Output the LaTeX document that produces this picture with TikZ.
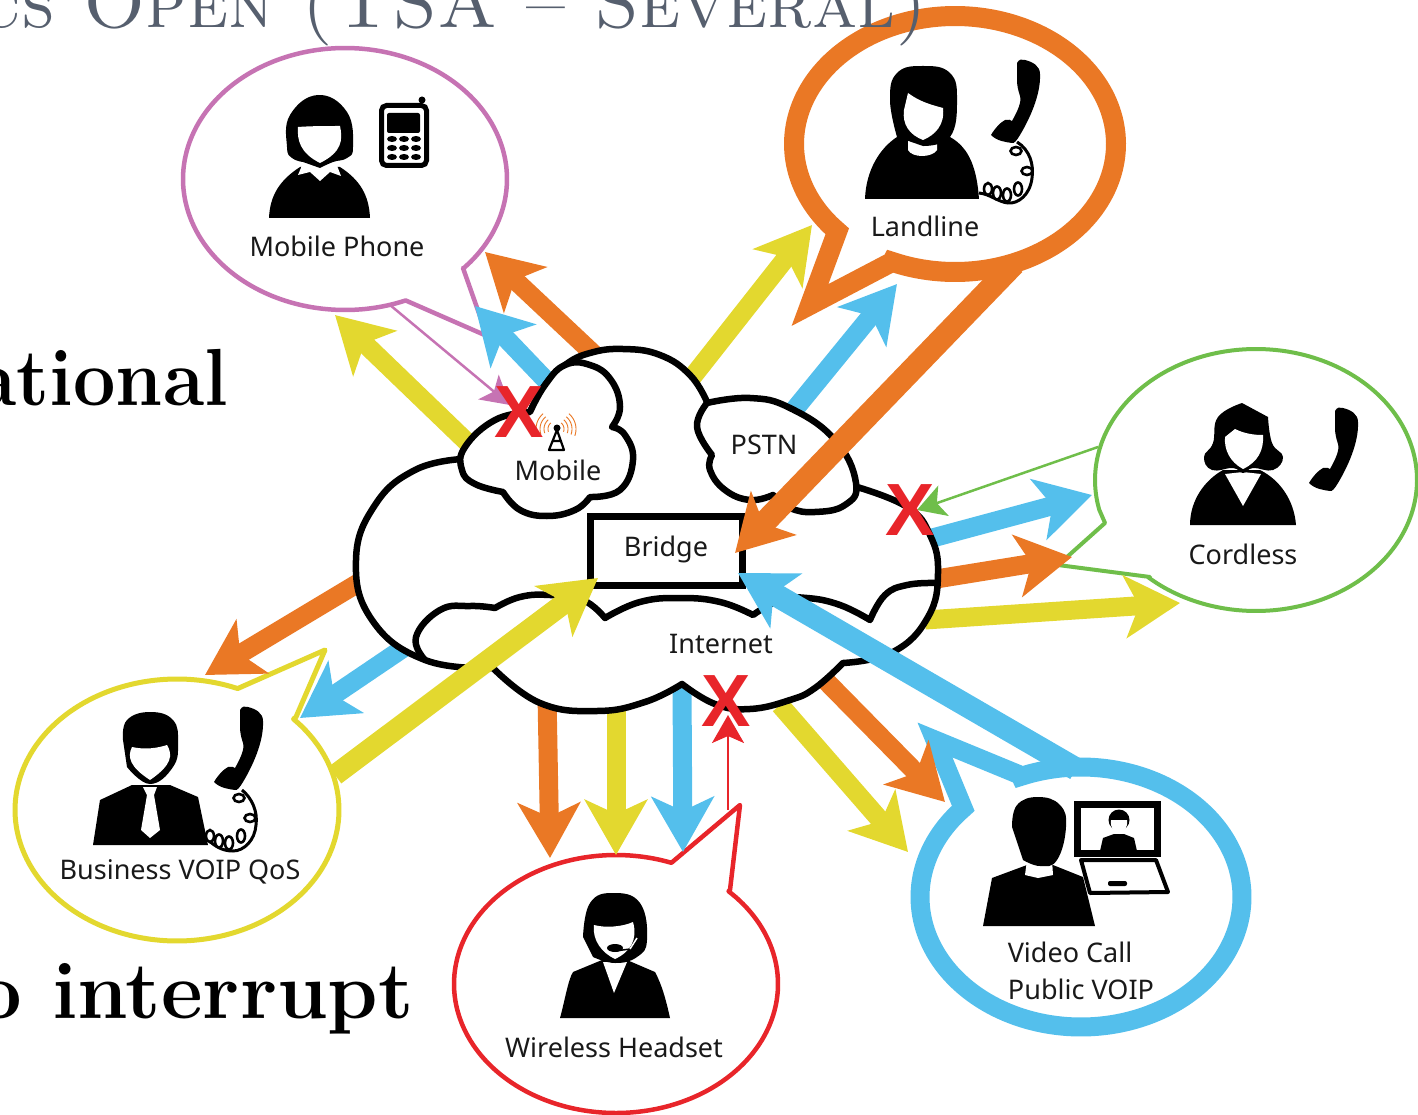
\documentclass[tikz,border=0pt]{standalone}
\usepackage{fontspec}
\newfontfamily\lab{Noto Sans}
\newfontfamily\xfont{Liberation Sans}
\usetikzlibrary{arrows.meta}
\definecolor{cy}{HTML}{E3D82F}
\definecolor{co}{HTML}{EA7825}
\definecolor{cb}{HTML}{54BFEC}
\definecolor{cg}{HTML}{6FBE4A}
\definecolor{cp}{HTML}{C673B3}
\definecolor{cr}{HTML}{E8252A}
\definecolor{ct}{HTML}{565F6E}
\tikzset{
 x=1pt,y=-1pt,
 big/.style={-{Stealth[length=55pt,width=62pt,inset=14pt]},line width=19pt},
 long/.style={big,line width=23pt},
 thin/.style={-{Stealth[length=28pt,width=32pt,inset=7pt]},line width=2.5pt},
 bubble/.style={fill=white,line join=round},
 heavybubble/.style={fill=white,line join=miter,miter limit=10},
 cloud/.style={draw=black,line width=6.5pt,line join=round},
 lbl/.style={font=\lab\fontsize{27}{30}\selectfont,inner sep=0pt,text=black!90},
 redx/.style={font=\xfont\bfseries\fontsize{74}{74}\selectfont,text=cr,inner sep=0pt},
 paper/.style={fill=white},
 sm/.style={smooth,tension=.75},
 bigtext/.style={inner sep=0pt,font=\bfseries\addfontfeature{FakeBold=2}\fontsize{81}{84}\selectfont},
 ring/.style={draw=black,line width=2.6pt,fill=white},
 cord/.style={draw=black,line width=3pt},
}
\newcommand\handset[2]{\fill[shift={(#1,#2)}] (0,3) .. controls (2,-1) and (5,-1) .. (8,0) .. controls (16,2) and (23,6) .. (23,14) .. controls (24,35) and (12,60) .. (3,75) .. controls (0,80) and (-3,84) .. (-5,83) .. controls (-12,82) and (-20,81) .. (-26,75) .. controls (-22,68) and (-16,62) .. (-12,60) .. controls (-9,59) and (-6,60) .. (-5,61) .. controls (0,52) and (5,42) .. (3,36) .. controls (1,30) and (0,25) .. (0,20) -- cycle;}
\begin{document}
\begin{tikzpicture}
\useasboundingbox (0,0) rectangle (1418,1115);
\clip (0,0) rectangle (1418,1115);
% ---------- speech bubbles
\draw[bubble,draw=cp,line width=4.5pt] plot[smooth,domain=43:-292,samples=90] ({345+162*cos(\x)},{179+131*sin(\x)}) -- (487,336) -- (463,268) -- cycle;
\draw[heavybubble,draw=co,line width=20pt] plot[smooth,domain=113:-223,samples=90] ({955+161*cos(\x)},{144+128*sin(\x)}) -- (810,305) -- (892,262) -- cycle;
\draw[bubble,draw=cg,line width=4pt] plot[smooth,domain=132:-193,samples=90] ({1256+161*cos(\x)},{480+131*sin(\x)}) -- (1105,523) -- (1058,565) -- (1150,577) -- cycle;
\draw[bubble,draw=cy,line width=5pt] plot[smooth,domain=-44:292,samples=90] ({177+162*cos(\x)},{810+131*sin(\x)}) -- (325,650) -- (296,717) -- cycle;
\draw[bubble,draw=cr,line width=4.5pt] plot[smooth,domain=-46:290,samples=90] ({616+162*cos(\x)},{984+129*sin(\x)}) -- (740,805) -- (730,890) -- cycle;
\draw[heavybubble,draw=cb,line width=19pt] plot[smooth,domain=-112:223,samples=90] ({1081+161*cos(\x)},{897+130*sin(\x)}) -- (935,740) -- (1020,775) -- cycle;
% ---------- arrow ends
\coordinate (mys) at (470,445); \coordinate (myt) at (335,315);
\coordinate (mbs) at (560,395); \coordinate (mbt) at (475,306);
\coordinate (mos) at (600,360); \coordinate (mot) at (485,252);
\coordinate (lys) at (690,380); \coordinate (lyt) at (812,225);
\coordinate (lbs) at (790,415); \coordinate (lbt) at (897,284);
\coordinate (cbs) at (925,540); \coordinate (cbt) at (1092,495);
\coordinate (coos) at (930,580); \coordinate (coot) at (1072,557);
\coordinate (cys) at (925,620); \coordinate (cyt) at (1180,603);
\coordinate (bos) at (360,582); \coordinate (bot) at (205,675);
\coordinate (bbs) at (405,647); \coordinate (bbt) at (300,718);
\coordinate (wos) at (547,695); \coordinate (wot) at (550,858);
\coordinate (wys) at (616,705); \coordinate (wyt) at (616,855);
\coordinate (wbs) at (682,685); \coordinate (wbt) at (683,852);
\coordinate (vos) at (825,680); \coordinate (vot) at (945,802);
\coordinate (vys) at (780,705); \coordinate (vyt) at (908,852);
\coordinate (los) at (1014,264); \coordinate (lot) at (735,553);
\coordinate (vbs) at (1076,769); \coordinate (vbt) at (738,573);
\coordinate (bys) at (335,775); \coordinate (byt) at (598,578);
\coordinate (mps) at (390,305); \coordinate (mpt) at (510,405);
\coordinate (cgs) at (1098,447); \coordinate (cgt) at (917,510);
\coordinate (wrs) at (728,810); \coordinate (wrt) at (728,715);
% ---------- arrows behind the clouds
\draw[big,cy] (mys) -- (myt);
\draw[big,cb] (mbs) -- (mbt);
\draw[big,co] (mos) -- (mot);
\draw[big,cy] (lys) -- (lyt);
\draw[big,cb] (lbs) -- (lbt);
\draw[big,cb] (cbs) -- (cbt);
\draw[big,co] (coos) -- (coot);
\draw[big,cy] (cys) -- (cyt);
\draw[big,co] (bos) -- (bot);
\draw[big,cb] (bbs) -- (bbt);
\draw[big,co] (wos) -- (wot);
\draw[big,cy] (wys) -- (wyt);
\draw[big,cb] (wbs) -- (wbt);
\draw[big,co] (vos) -- (vot);
\draw[big,cy] (vys) -- (vyt);
% ---------- clouds
\draw[cloud,fill=white] plot[sm] coordinates {(462,459)(415,470)(375,505)(356,560)(372,620)(425,660)(493,668)}
 -- plot[sm] coordinates {(493,668)(540,703)(597,711)(645,702)(682,684)}
 -- plot[sm] coordinates {(682,684)(715,704)(750,709)(790,700)(815,688)(843,663)}
 -- plot[sm] coordinates {(843,663)(893,652)(928,617)(938,573)(930,535)(907,507)(857,487)}
 -- plot[sm] coordinates {(707,402)(690,375)(660,355)(623,349)(590,353)(565,365)(545,385)(530,412)} -- cycle;
\draw[cloud,fill=white] plot[sm] coordinates {(530,412)(495,420)(465,447)(462,470)(475,484)(503,492)}
 -- plot[sm] coordinates {(503,492)(520,510)(547,516)(575,510)(590,497)}
 -- plot[sm] coordinates {(590,497)(620,490)(633,460)(625,435)(612,427)}
 -- plot[sm] coordinates {(612,427)(620,407)(611,380)(590,365)(565,365)(545,385)(530,412)} -- cycle;
\draw[cloud,fill=white] plot[sm] coordinates {(707,403)(697,427)(712,455)}
 -- plot[sm] coordinates {(712,455)(710,470)(725,490)(750,500)(773,495)}
 -- plot[sm] coordinates {(773,495)(790,508)(815,512)(845,505)(856,483)(835,440)(790,408)(750,398)(707,403)} -- cycle;
\draw[cloud] plot[sm] coordinates {(425,660)(416,637)(440,610)(470,606)(495,608)}
 -- plot[sm] coordinates {(495,608)(520,597)(550,595)(583,600)(605,618)}
 -- plot[sm] coordinates {(605,618)(640,602)(680,598)(720,602)(753,615)}
 -- plot[sm] coordinates {(753,615)(780,600)(807,598)(840,605)(870,620)}
 -- plot[sm] coordinates {(870,620)(885,595)(907,585)(935,583)};
% ---------- bridge
\node[draw=black,line width=7pt,fill=white,minimum width=152pt,minimum height=69pt,inner sep=0pt] (bridge) at (666,550.5) {};
% ---------- arrows in front
\draw[long,co] (los) -- (lot);
\draw[long,cb] (vbs) -- (vbt);
\draw[long,cy,line width=21pt] (bys) -- (byt);
\draw[thin,cp] (mps) -- (mpt);
\draw[thin,cg] (cgs) -- (cgt);
\draw[thin,cr] (wrs) -- (wrt);
% ---------- tower
\foreach \r in {8,12,16,20}{
 \draw[co,line width=.9pt] plot[smooth,domain=-50:20,samples=12] ({556+\r*cos(\x)},{429+\r*sin(\x)});
 \draw[co,line width=.9pt] plot[smooth,domain=160:230,samples=12] ({556+\r*cos(\x)},{429+\r*sin(\x)});
}
\fill (557,428) circle (3.5);
\draw[line width=2.2pt,line join=round] (557,430) -- (549,450) -- (564,450) -- cycle (553,441) -- (561,441);
% ---------- Xs
\node[redx] (x1) at (519,412) {X};
\node[redx] (x2) at (910,510) {X};
\node[redx] (x3) at (726,701) {X};
% ---------- mobile person
\fill (269,218) .. controls (270,195) and (280,180) .. (300,167) -- (340,167) .. controls (360,180) and (369,195) .. (370,218) -- cycle;
\fill[paper] (303,163) -- (298,175) -- (310,172) -- (320,181) -- (330,172) -- (341,176) -- (336,163) -- cycle;
\fill plot[sm] coordinates {(303,162)(292,158)(287,147)(290,115)(318,95)(347,112)(353,147)(347,158)(333,162)(320,168)} -- cycle;
\fill[paper] (298,127) .. controls (310,126) and (328,126) .. (340,126) .. controls (343,140) and (342,152) .. (320,163) .. controls (300,153) and (297,140) .. (298,127) -- cycle;
\draw[line width=5pt,rounded corners=5pt,fill=white] (381.5,105.5) rectangle (426.5,165.5);
\fill (422,100) circle (3.5);
\fill[rounded corners=2pt] (387,113) rectangle (420,133);
\foreach \a in {392,404,416}\foreach \b in {139,148,157}{\fill (\a,\b) ellipse (5 and 3);}
% ---------- landline person
\fill (865,199) .. controls (866,170) and (880,148) .. (897,137) -- (950,137) .. controls (970,148) and (977,170) .. (979,199) -- cycle;
\fill[paper] (908,133) -- (908,150) .. controls (912,158) and (932,158) .. (937,150) -- (937,133) -- cycle;
\fill plot[sm] coordinates {(897,137)(890,100)(897,73)(923,66)(950,73)(957,100)(950,137)(923,146)} -- cycle;
\fill[paper] (908,93) .. controls (920,102) and (932,105) .. (943,108) .. controls (945,125) and (935,135) .. (923,140) .. controls (910,135) and (902,125) .. (904,110) -- cycle;
\handset{1017}{60}
\draw[cord] (1017,142) .. controls (1030,150) and (1034,165) .. (1032,178) .. controls (1030,195) and (1018,204) .. (1008,203) .. controls (998,202) and (990,194) .. (979,193);
\foreach \p/\q/\u/\v in {1016/151/5.5/4,1027/171/5.5/4,1018/189/4/6.5,1007/195/4/6.5,997/193/4/6.5,988/189/4/6}{\draw[ring] (\p,\q) ellipse ({\u} and {\v});}
% ---------- cordless person
\fill (1190,525) .. controls (1190,500) and (1205,480) .. (1223,470) -- (1260,470) .. controls (1280,480) and (1294,500) .. (1296,525) -- cycle;
\fill[paper] (1225,474) -- (1243,506) -- (1261,474) -- (1243,472) -- cycle;
\fill plot[sm] coordinates {(1242,403)(1218,417)(1213,443)(1204,457)(1212,470)(1233,468)(1243,473)(1253,468)(1273,470)(1283,457)(1272,443)(1268,417)} -- cycle;
\fill[paper] (1225,437) -- (1235,429) .. controls (1245,434) and (1255,435) .. (1263,435) .. controls (1264,450) and (1258,462) .. (1243,469) .. controls (1230,462) and (1224,450) .. (1225,437) -- cycle;
\handset{1335}{408}
% ---------- business person
\fill (93,845) -- (100,800) -- (132,785) -- (170,785) -- (198,797) -- (208,845) -- cycle;
\fill[paper] (143,787) -- (157,787) -- (154,795) -- (160,830) -- (150,838) -- (141,830) -- (147,795) -- cycle;
\fill plot[sm] coordinates {(123,740)(127,720)(150,712)(173,720)(178,743)(173,767)(150,784)(127,767)} -- cycle;
\fill[paper] (132,747) .. controls (145,750) and (158,748) .. (167,745) .. controls (173,755) and (172,765) .. (150,780) .. controls (130,767) and (127,757) .. (132,747) -- cycle;
\handset{240}{707}
\draw[cord] (242,790) .. controls (252,798) and (258,812) .. (256,825) .. controls (255,840) and (244,851) .. (233,851) .. controls (222,851) and (215,846) .. (208,840);
\foreach \p/\q/\u/\v in {239/798/5.5/4,250/818/5.5/4,241/836/4/6.5,229/843/4/6.5,219/841/4/6.5,210/836/4/6}{\draw[ring] (\p,\q) ellipse ({\u} and {\v});}
% ---------- headset person
\fill (560,1018) .. controls (565,1000) and (568,980) .. (573,972) -- (602,960) -- (627,960) -- (655,972) .. controls (662,985) and (666,1000) .. (670,1018) -- cycle;
\fill[paper] (603,962) -- (614,993) -- (627,962) -- cycle;
\fill plot[sm] coordinates {(583,937)(590,903)(613,893)(640,903)(647,940)(637,957)(615,963)(593,957)} -- cycle;
\fill[paper] (594,925) .. controls (605,928) and (622,927) .. (633,922) .. controls (638,940) and (630,952) .. (615,959) .. controls (602,953) and (592,940) .. (594,925) -- cycle;
\fill (615,948) ellipse (8 and 4);
\draw[line width=1.5pt] (615,951) -- (630,949);
\draw[white,line width=1.5pt] (630,949) -- (637,938);
% ---------- video person
\draw[line width=4pt,line join=round,fill=white] (1081,860) -- (1156,860) -- (1168,892) -- (1090,893) -- cycle;
\fill[rounded corners=2pt] (1108,881) rectangle (1127,886);
\draw[line width=7pt,fill=white] (1077.5,804.5) rectangle (1157.5,853.5);
\fill (1100,851) -- (1103,838) -- (1114,834) -- (1124,834) -- (1134,838) -- (1137,851) -- cycle;
\fill (1119,820) circle (10.5);
\fill[paper] (1111,820) -- (1127,820) .. controls (1128,828) and (1124,832) .. (1119,834) .. controls (1114,832) and (1110,828) .. (1111,820) -- cycle;
\fill (983,926) -- (992,878) -- (1027,865) -- (1053,865) -- (1083,877) -- (1095,926) -- cycle;
\fill[paper] (1027,860) -- (1025,875) -- (1038,878) -- (1053,875) -- (1052,860) -- cycle;
\fill plot[sm] coordinates {(1012,827)(1017,805)(1038,797)(1060,805)(1066,827)(1057,860)(1040,866)(1023,860)} -- cycle;
% ---------- labels
\node[lbl] (tmobilephone) at (337,246) {Mobile Phone};
\node[lbl] (tlandline) at (925,226) {Landline};
\node[lbl] (tcordless) at (1243,554) {Cordless};
\node[lbl] (tbusiness) at (180,872) {Business VOIP QoS};
\node[lbl] (twireless) at (614,1047) {Wireless Headset};
\node[lbl] (tvideo) at (1070,952) {Video Call};
\node[lbl] (tpublic) at (1081,989) {Public VOIP};
\node[lbl] (tpstn) at (764,445) {PSTN};
\node[lbl] (tmobile) at (558,470) {Mobile};
\node[lbl] (tbridge) at (666,549) {Bridge};
\node[lbl] (tinternet) at (721,644) {Internet};
% ---------- slide text
\node[anchor=base east,inner sep=0pt,text=ct,font=\fontsize{74}{76}\selectfont\scshape] (title) at (928,28) {cs Open (TSA -- Several)};
\node[anchor=base east,bigtext,xscale=.93] (t1) at (228,405) {ational};
\node[anchor=base west,bigtext] (t2) at (-24,1018) {o interrupt};
\end{tikzpicture}
\end{document}
